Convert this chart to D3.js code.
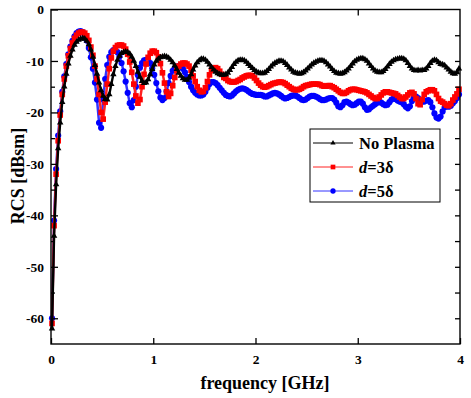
<!DOCTYPE html>
<html><head><meta charset="utf-8">
<script src="https://cdn.jsdelivr.net/npm/d3@7/dist/d3.min.js"></script>
<style>
body{margin:0;background:#fff;}
svg{display:block;font-family:"Liberation Serif","Times New Roman",serif;}
</style>
</head><body>
<svg id="chart" width="471" height="398"></svg>
<script>
// frequency [GHz] sampling: 0.01, 0.03, ... 3.99
const freqStart = 0.01, freqStep = 0.02;

const noPlasma = [-62,-44,-34,-27,-22,-18,-15,-12.5,-10.5,-9,
-7.8,-6.9,-6.3,-5.9,-5.7,-5.6,-5.7,-6.1,-6.8,-7.8,
-9.2,-10.8,-12.5,-14.2,-15.7,-16.8,-17.4,-17.5,-16.5,-14.5,
-12.6,-11.0,-9.8,-9.0,-8.5,-8.3,-8.2,-8.3,-8.6,-9.2,
-10.0,-11.0,-12.1,-13.1,-13.9,-14.3,-14.2,-13.6,-12.6,-11.6,
-10.7,-10.0,-9.6,-9.3,-9.2,-9.1,-9.2,-9.4,-9.8,-10.3,
-10.9,-11.6,-12.3,-12.9,-13.4,-13.7,-13.7,-13.3,-12.6,-11.7,
-10.9,-10.3,-9.9,-9.6,-9.6,-9.8,-10.2,-10.7,-11.2,-11.7,
-12.1,-12.4,-12.6,-12.7,-12.7,-12.6,-12.3,-11.8,-11.2,-10.6,
-10.2,-9.9,-9.8,-9.8,-9.9,-10.2,-10.6,-11.0,-11.4,-11.8,
-12.1,-12.3,-12.4,-12.4,-12.3,-12.0,-11.6,-11.1,-10.7,-10.4,
-10.2,-10.0,-10.0,-10.1,-10.4,-10.8,-11.3,-11.7,-12.1,-12.3,
-12.4,-12.5,-12.4,-12.2,-11.9,-11.5,-11.1,-10.7,-10.4,-10.2,
-10.0,-9.9,-9.9,-10.0,-10.3,-10.7,-11.1,-11.6,-12.0,-12.3,
-12.4,-12.5,-12.4,-12.2,-11.9,-11.5,-11.0,-10.5,-10.1,-9.8,
-9.6,-9.5,-9.5,-9.7,-10.0,-10.5,-11.0,-11.5,-11.9,-12.1,
-12.2,-12.2,-12.0,-11.6,-11.1,-10.6,-10.2,-9.9,-9.7,-9.6,
-9.5,-9.5,-9.6,-9.9,-10.4,-11.0,-11.5,-11.8,-11.9,-11.8,
-11.9,-11.8,-11.8,-11.5,-11.0,-10.4,-10.0,-9.8,-9.9,-10.3,
-10.6,-10.7,-10.9,-11.3,-11.7,-12.1,-12.4,-12.5,-12.2,-11.5];

const d3delta = [-61,-42,-32,-25.5,-20.5,-16.5,-13.5,-11,-9,-7.6,
-6.5,-5.6,-5.0,-4.6,-4.4,-4.4,-4.6,-5.1,-6.0,-7.3,
-8.9,-11.0,-13.5,-16.5,-20.0,-21.3,-18.0,-14.5,-11.5,-9.4,
-8.1,-7.4,-7.0,-6.9,-6.9,-7.1,-7.7,-8.7,-10.2,-12.2,
-14.5,-16.8,-18.2,-17.5,-15.0,-12.6,-10.6,-9.3,-8.5,-8.1,
-8.1,-8.4,-9.2,-10.5,-12.3,-14.3,-16.0,-16.9,-16.3,-14.8,
-13.2,-11.9,-11.0,-10.6,-10.4,-10.4,-10.6,-11.0,-11.8,-12.9,
-14.0,-15.0,-15.7,-16.0,-15.9,-15.2,-14.0,-12.7,-11.8,-11.4,
-11.3,-11.5,-12.0,-12.6,-13.2,-13.4,-13.8,-14.0,-14.1,-14.1,
-14.0,-13.8,-13.6,-13.3,-13.1,-12.9,-12.8,-12.8,-12.9,-13.3,
-13.8,-14.3,-14.7,-15.0,-15.1,-15.0,-14.8,-14.6,-14.4,-14.3,
-14.2,-14.1,-14.1,-14.2,-14.4,-14.7,-15.0,-15.3,-15.5,-15.6,
-15.6,-15.5,-15.3,-15.0,-14.8,-14.7,-14.6,-14.5,-14.5,-14.5,
-14.5,-14.6,-14.8,-14.9,-14.9,-14.8,-14.8,-15.0,-15.2,-15.5,
-15.8,-16.1,-16.3,-16.3,-16.1,-15.8,-15.6,-15.5,-15.5,-15.6,
-15.7,-15.8,-15.9,-16.0,-16.2,-16.5,-16.8,-17.1,-17.3,-17.3,
-17.0,-16.6,-16.2,-16.0,-16.0,-16.1,-16.2,-16.3,-16.4,-16.7,
-17.0,-17.3,-17.3,-17.0,-16.6,-16.2,-16.1,-16.4,-17.3,-18.3,
-18.5,-17.5,-16.5,-16.0,-15.8,-15.6,-15.6,-15.8,-16.5,-17.3,
-17.8,-18.0,-18.3,-18.6,-18.7,-18.3,-17.6,-17.0,-16.4,-15.5];

const d5delta = [-60,-41,-31,-24.5,-19.8,-16,-13,-10.6,-8.7,-7.2,
-6.1,-5.2,-4.6,-4.3,-4.2,-4.4,-5.0,-6.0,-7.5,-9.3,
-11.5,-14.2,-17.5,-22.0,-23.0,-17.5,-13.5,-10.8,-9.2,-8.3,
-7.9,-7.9,-8.3,-9.1,-10.4,-12.0,-14.0,-16.2,-18.2,-19.0,
-17.6,-15.0,-12.8,-11.3,-10.4,-9.9,-9.8,-9.9,-10.4,-11.4,
-12.7,-14.3,-15.9,-17.1,-17.6,-17.2,-15.9,-14.3,-12.9,-11.9,
-11.4,-11.1,-11.0,-11.1,-11.5,-12.2,-13.1,-14.1,-15.0,-15.7,
-16.2,-16.5,-16.7,-16.7,-16.5,-16.0,-15.2,-14.5,-14.1,-14.1,
-14.3,-14.7,-15.2,-15.7,-16.2,-16.6,-16.8,-16.9,-16.7,-16.3,
-15.9,-15.6,-15.4,-15.3,-15.4,-15.6,-15.9,-16.2,-16.4,-16.5,
-16.6,-16.6,-16.6,-16.7,-16.9,-16.9,-16.7,-16.5,-16.3,-16.2,
-16.3,-16.5,-16.8,-17.1,-17.3,-17.2,-17.0,-16.8,-16.7,-16.7,
-16.9,-17.2,-17.5,-17.6,-17.5,-17.2,-16.9,-16.8,-16.8,-16.9,
-17.1,-17.4,-17.6,-17.6,-17.5,-17.3,-17.2,-17.2,-17.5,-18.1,
-18.8,-19.0,-18.6,-18.0,-17.9,-18.1,-18.4,-18.6,-18.5,-18.2,
-17.9,-17.9,-18.3,-19.0,-19.5,-19.4,-19.0,-18.7,-18.4,-18.1,
-17.9,-18.1,-18.4,-18.6,-18.5,-18.0,-17.5,-17.3,-17.4,-17.7,
-17.9,-18.0,-18.4,-18.9,-19.2,-18.8,-17.8,-17.1,-16.9,-17.2,
-17.6,-17.9,-17.9,-17.7,-17.6,-18.0,-19.0,-20.2,-21.0,-21.2,
-20.8,-19.8,-19.0,-18.8,-18.9,-18.7,-18.2,-17.8,-17.2,-16.5];

const xTicks = [0, 1, 2, 3, 4];
const yTicks = [0, -10, -20, -30, -40, -50, -60];
const yMinorTicks = [-5, -15, -25, -35, -45, -55, -65];
const xDomain = [0, 4];
const yDomain = [-65, 0];

const frequency = noPlasma.map((_, i) => +(freqStart + freqStep * i).toFixed(2));

const svg = d3.select("#chart");
const L = 51, R = 460, T = 9.5, B = 344;
const x = d3.scaleLinear().domain(xDomain).range([L, R]);
const y = d3.scaleLinear().domain(yDomain).range([B, T]);

const series = [
  {name: "d5", values: d5delta, color: "#0000ff", line: "#3333ff", lw: 2.5, shape: "circle"},
  {name: "d3", values: d3delta, color: "#ff0000", line: "#ff2222", lw: 2.5, shape: "square"},
  {name: "np", values: noPlasma, color: "#000000", line: "#000000", lw: 2.4, shape: "triangle"}
];

const symbolFor = s => s === "circle" ? d3.symbol(d3.symbolCircle, 30)
  : s === "square" ? d3.symbol(d3.symbolSquare, 32)
  : d3.symbol(d3.symbolTriangle, 18);

const plot = svg.append("g");
series.forEach(s => {
  const pts = frequency.map((f, i) => [f, s.values[i]]);
  plot.append("path")
    .attr("d", d3.line().x(d => x(d[0])).y(d => y(d[1]))(pts))
    .attr("fill", "none").attr("stroke", s.line).attr("stroke-width", s.lw);
  plot.append("g").selectAll("path").data(pts).join("path")
    .attr("transform", d => `translate(${x(d[0])},${y(d[1])})`)
    .attr("d", symbolFor(s.shape)())
    .attr("fill", s.color);
});

// axes
const fmt = d => d3.format("d")(d).replace("−", "-");
svg.append("g").attr("transform", `translate(0,${B})`)
  .call(d3.axisBottom(x).tickValues(xTicks).tickSizeInner(-6).tickSizeOuter(0).tickPadding(10).tickFormat(fmt));
svg.append("g").attr("transform", `translate(${L},0)`)
  .call(d3.axisLeft(y).tickValues(yTicks).tickSizeInner(-7).tickSizeOuter(0).tickPadding(7).tickFormat(fmt));
svg.append("g").attr("transform", `translate(${L},0)`)
  .call(d3.axisLeft(y).tickValues(yMinorTicks.filter(v => v > -65)).tickSizeInner(-4).tickSizeOuter(0).tickFormat(""));
svg.append("g").attr("transform", `translate(${R},0)`)
  .call(d3.axisRight(y).tickValues(yTicks.concat(yMinorTicks).filter(v => v > -65 && v < 0)).tickSizeInner(-5).tickSizeOuter(0).tickFormat(""));
svg.append("g").attr("transform", `translate(0,${T})`)
  .call(d3.axisTop(x).tickValues(xTicks.filter(v => v > 0 && v < 4)).tickSizeInner(-6).tickSizeOuter(0).tickFormat(""));
svg.selectAll(".domain").remove();
svg.selectAll(".tick line").attr("stroke", "#000").attr("stroke-width", 1.3);
svg.selectAll(".tick text").attr("font-family", "'Liberation Serif',serif")
  .attr("font-size", 13.5).attr("font-weight", "bold").attr("fill", "#000");

svg.append("rect").attr("x", L).attr("y", T).attr("width", R - L).attr("height", B - T)
  .attr("fill", "none").attr("stroke", "#000").attr("stroke-width", 1.4);

// titles
svg.append("text").attr("x", 265).attr("y", 389).attr("text-anchor", "middle")
  .attr("font-size", 18).attr("font-weight", "bold").text("frequency [GHz]");
svg.append("text").attr("transform", "translate(24,176) rotate(-90)").attr("text-anchor", "middle")
  .attr("font-size", 18).attr("font-weight", "bold").text("RCS [dBsm]");

// legend
const legendLabels = [
  {pre: "No Plasma", it: "", post: ""},
  {pre: "", it: "d", post: "=3δ"},
  {pre: "", it: "d", post: "=5δ"}
];
const legendOrder = [series[2], series[1], series[0]];
const lg = svg.append("g");
lg.append("rect").attr("x", 310).attr("y", 129).attr("width", 130).attr("height", 73)
  .attr("fill", "#fff").attr("stroke", "#000").attr("stroke-width", 1);
legendOrder.forEach((s, i) => {
  const cy = 143 + i * 24;
  lg.append("line").attr("x1", 313).attr("x2", 353).attr("y1", cy).attr("y2", cy)
    .attr("stroke", s.line).attr("stroke-width", 1);
  lg.append("path").attr("transform", `translate(333,${cy})`).attr("d", d3.symbol(
      s.shape === "circle" ? d3.symbolCircle : s.shape === "square" ? d3.symbolSquare : d3.symbolTriangle,
      s.shape === "triangle" ? 12 : 22)()).attr("fill", s.color);
  const t = lg.append("text").attr("x", 359).attr("y", cy + 5.5).attr("font-size", 16.5).attr("font-weight", "bold");
  const lab = legendLabels[i];
  if (lab.pre) t.append("tspan").text(lab.pre);
  if (lab.it) t.append("tspan").attr("font-style", "italic").text(lab.it);
  if (lab.post) t.append("tspan").text(lab.post);
});
</script>
</body></html>
